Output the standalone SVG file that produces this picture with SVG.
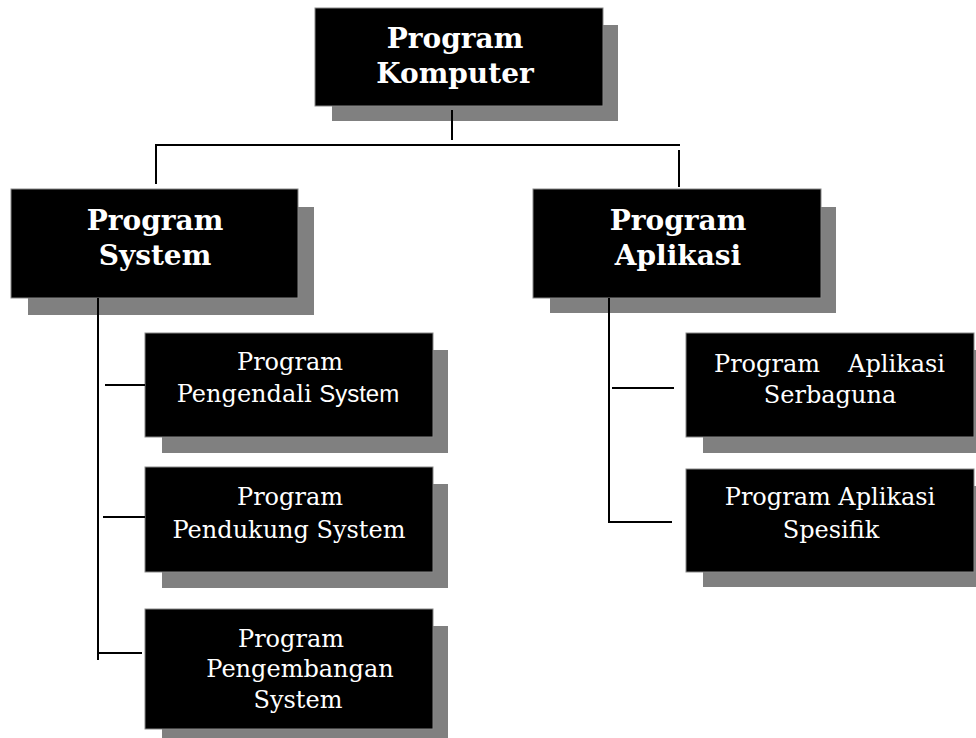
<svg xmlns="http://www.w3.org/2000/svg" width="976" height="738" viewBox="0 0 976 738">
<style>
.box{fill:#000;stroke:#888;stroke-width:1}
.sh{fill:#808080}
.t{font-family:"DejaVu Serif","Liberation Serif",serif;fill:#fff;text-anchor:middle}
.b{font-size:28px;font-weight:bold}
.r{font-size:24px}
.sans{font-family:"Liberation Sans",Arial,sans-serif}
.c{stroke:#000;stroke-width:2;fill:none}
</style>
<rect width="976" height="738" fill="#fff"/>
<g id="program-komputer">
<rect class="sh" x="332" y="25" width="286" height="96"/>
<rect class="box" x="315" y="8" width="288" height="98"/>
<text class="t b" x="455" y="48">Program</text>
<text class="t b" x="455" y="83">Komputer</text>
</g>
<g id="program-system">
<rect class="sh" x="28" y="207" width="286" height="108"/>
<rect class="box" x="11" y="189" width="287" height="109"/>
<text class="t b" x="155" y="230">Program</text>
<text class="t b" x="155" y="265">System</text>
</g>
<g id="program-aplikasi">
<rect class="sh" x="550" y="207" width="286" height="106"/>
<rect class="box" x="533" y="189" width="288" height="109"/>
<text class="t b" x="678" y="230">Program</text>
<text class="t b" x="678" y="265">Aplikasi</text>
</g>
<g id="pengendali">
<rect class="sh" x="162" y="350" width="286" height="103"/>
<rect class="box" x="145" y="333" width="288" height="104"/>
<text class="t r" x="290" y="370">Program</text>
<text class="t r" x="288" y="402">Pengendali <tspan class="sans">System</tspan></text>
</g>
<g id="pendukung">
<rect class="sh" x="162" y="484" width="286" height="104"/>
<rect class="box" x="145" y="467" width="288" height="105"/>
<text class="t r" x="290" y="505">Program</text>
<text class="t r" x="289" y="538">Pendukung System</text>
</g>
<g id="pengembangan">
<rect class="sh" x="162" y="626" width="286" height="119"/>
<rect class="box" x="145" y="609" width="288" height="120"/>
<text class="t r" x="291" y="647">Program</text>
<text class="t r" x="300" y="677">Pengembangan</text>
<text class="t r" x="298" y="708">System</text>
</g>
<g id="serbaguna">
<rect class="sh" x="703" y="350" width="286" height="103"/>
<rect class="box" x="686" y="333" width="288" height="104"/>
<text class="t r" y="372"><tspan x="714" text-anchor="start">Program</tspan><tspan x="945" text-anchor="end">Aplikasi</tspan></text>
<text class="t r" x="830" y="403">Serbaguna</text>
</g>
<g id="spesifik">
<rect class="sh" x="703" y="486" width="286" height="101"/>
<rect class="box" x="686" y="469" width="288" height="103"/>
<text class="t r" x="830" y="505">Program Aplikasi</text>
<text class="t r" x="831" y="538">Spesifik</text>
</g>
<g id="connectors">
<path class="c" d="M452 110V140"/>
<path class="c" d="M155 145H680"/>
<path class="c" d="M156 145V184"/>
<path class="c" d="M679 150V187"/>
<path class="c" d="M98 298V660"/>
<path class="c" d="M105 385H145"/>
<path class="c" d="M103 517H145"/>
<path class="c" d="M98 653H142"/>
<path class="c" d="M609 298V522H672"/>
<path class="c" d="M612 388H674"/>
</g>
</svg>
